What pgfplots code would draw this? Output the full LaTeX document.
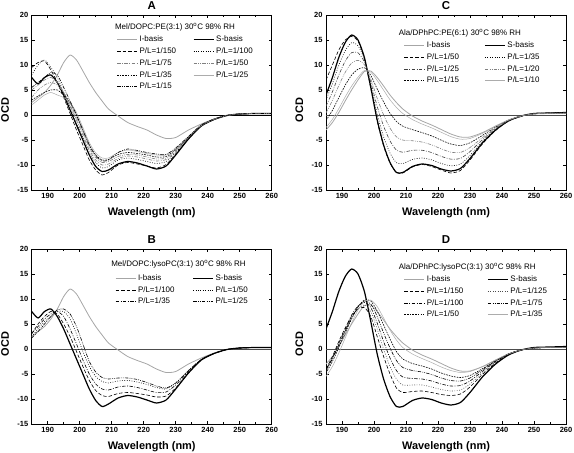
\documentclass[border=0pt]{standalone}
\usepackage{pgfplots}
\pgfplotsset{compat=1.18}
\usepackage{pgfplotstable}
\usepackage{fontspec}
\setmainfont{Liberation Sans}

\pgfplotstableread{
lam  I     S      p1     p2     p3     p4     p5     p6     p7
185  2.5   7.5    9.5    8.0    5.0    3.5    3.0    2.0    5.5
187  3.5   6.2    10.5   10.0   6.0    5.0    3.8    3.0    6.5
189  4.5   7.5    10.8   11.0   7.0    6.0    4.5    4.0    7.5
191  6.0   8.0    9.0    9.5    7.5    6.5    5.0    4.5    8.5
193  8.0   6.5    6.5    7.5    6.5    6.0    5.0    4.0    8.0
195  10.5  4.0    3.5    4.5    4.5    4.5    4.0    3.5    5.5
197  12.0  1.0    0.3    1.5    2.0    2.2    2.5    2.5    2.8
199  11.0  -2.0   -3.0   -1.5   -1.0   -0.5   0.0    0.5    0.0
201  8.8   -5.0   -6.0   -4.5   -4.0   -3.5   -3.0   -2.5   -3.0
203  6.5   -8.0   -9.0   -7.5   -7.0   -6.5   -6.0   -5.5   -6.0
205  4.5   -10.3  -11.0  -9.5   -9.0   -8.5   -8.0   -7.6   -8.2
207  2.8   -11.3  -12.0  -10.6  -10.0  -9.5   -9.0   -8.6   -9.2
209  1.2   -11.0  -11.5  -10.3  -9.8   -9.3   -8.9   -8.6   -9.0
212  -0.2  -9.8   -10.0  -9.0   -8.7   -8.3   -7.9   -7.5   -7.5
215  -1.5  -9.3   -9.5   -8.6   -8.2   -7.9   -7.5   -7.0   -6.8
218  -2.3  -9.6   -9.8   -8.9   -8.4   -8.0   -7.7   -7.3   -7.1
221  -3.0  -10.2  -10.2  -9.3   -8.8   -8.4   -8.0   -7.7   -7.5
224  -4.0  -10.8  -10.6  -9.7   -9.2   -8.8   -8.4   -8.0   -7.8
227  -4.7  -10.2  -9.9   -9.3   -8.9   -8.6   -8.3   -8.0   -7.9
230  -4.5  -8.0   -7.8   -7.5   -7.3   -7.1   -6.9   -6.7   -6.6
234  -3.0  -4.8   -4.7   -4.6   -4.5   -4.4   -4.4   -4.3   -4.3
238  -1.8  -2.2   -2.2   -2.1   -2.1   -2.1   -2.0   -2.0   -2.0
242  -0.8  -0.9   -0.9   -0.9   -0.9   -0.8   -0.8   -0.8   -0.8
246  -0.1  -0.1   -0.1   -0.1   -0.1   -0.1   -0.1   -0.1   -0.1
250  0.2   0.2    0.2    0.2    0.2    0.2    0.2    0.2    0.2
255  0.3   0.3    0.3    0.3    0.3    0.3    0.3    0.3    0.3
260  0.3   0.3    0.3    0.3    0.3    0.3    0.3    0.3    0.3
}\tabA

\pgfplotstableread{
lam  I     S      p1     p2     p3     p4
185  2.5   7.5    3.0    2.5    3.2    2.2
187  3.5   6.2    5.0    4.0    4.5    3.5
189  4.5   7.5    6.5    5.5    6.0    5.0
191  6.0   8.0    7.5    6.5    7.0    6.5
193  8.0   6.5    7.0    7.5    7.5    7.8
195  10.5  4.0    5.0    7.5    6.5    8.0
197  12.0  1.0    2.5    6.0    4.0    7.0
199  11.0  -2.0   -0.5   3.0    1.0    4.5
201  8.8   -5.0   -3.5   -0.5   -2.2   1.0
203  6.5   -8.0   -6.3   -3.5   -5.0   -2.5
205  4.5   -10.3  -8.3   -5.5   -7.0   -4.6
207  2.8   -11.5  -9.3   -6.5   -8.0   -5.7
209  1.2   -11.0  -9.5   -6.8   -8.2   -6.0
212  -0.2  -9.8   -8.9   -6.4   -7.6   -5.8
215  -1.5  -9.3   -8.7   -6.3   -7.4   -5.8
218  -2.3  -9.6   -8.9   -6.6   -7.7   -6.1
221  -3.0  -10.2  -9.2   -7.1   -8.2   -6.7
224  -4.0  -10.8  -9.6   -7.7   -8.7   -7.4
227  -4.7  -10.2  -9.4   -8.0   -8.6   -7.8
230  -4.5  -8.0   -7.8   -6.8   -7.2   -6.8
234  -3.0  -4.8   -4.7   -4.3   -4.5   -4.3
238  -1.8  -2.2   -2.2   -2.1   -2.1   -2.1
242  -0.8  -0.9   -0.9   -0.9   -0.9   -0.9
246  -0.1  -0.1   -0.1   -0.1   -0.1   -0.1
250  0.2   0.2    0.2    0.2    0.2    0.2
255  0.3   0.3    0.3    0.3    0.3    0.3
260  0.3   0.3    0.3    0.3    0.3    0.3
}\tabB

\pgfplotstableread{
lam  I     S      p1     p2     p3     p4     p5     p6
185  -3.0  4.0    7.0    3.02   1.76   0.43   -1.11  -2.51
187  -1.5  7.5    10.0   6.24   4.62   2.91   0.93   -0.87
189  0.5   11.5   13.0   9.96   7.98   5.89   3.47   1.27
191  2.8   14.5   15.0   12.86  10.76  8.53   5.96   3.62
193  5.0   16.0   15.7   14.46  12.48  10.39  7.97   5.77
195  7.0   15.0   14.8   13.88  12.44  10.92  9.16   7.56
197  8.7   11.5   11.3   11.11  10.60  10.07  9.46   8.90
199  8.8   5.5    5.3    5.96   6.56   7.18   7.91   8.57
201  7.5   -1.0   -1.2   0.19   1.72   3.33   5.20   6.90
203  5.8   -6.0   -6.2   -4.35  -2.22  0.02   2.61   4.97
205  4.0   -9.5   -9.6   -7.61  -5.18  -2.62  0.35   3.05
207  2.5   -11.5  -11.5  -9.54  -7.02  -4.36  -1.28  1.52
209  1.2   -11.5  -11.6  -9.72  -7.44  -5.02  -2.23  0.31
212  -0.2  -10.3  -10.4  -8.89  -7.07  -5.15  -2.93  -0.91
215  -1.2  -9.8   -9.9   -8.60  -7.05  -5.41  -3.52  -1.80
218  -2.0  -10.1  -10.3  -8.97  -7.51  -5.97  -4.19  -2.57
221  -2.9  -10.8  -11.0  -9.69  -8.27  -6.77  -5.03  -3.45
224  -3.8  -11.2  -11.6  -10.16 -8.83  -7.43  -5.80  -4.32
227  -4.4  -10.7  -11.1  -9.82  -8.68  -7.49  -6.10  -4.84
230  -4.4  -8.7   -9.0   -8.10  -7.32  -6.51  -5.56  -4.70
234  -3.5  -5.5   -5.7   -5.22  -4.86  -4.48  -4.04  -3.64
238  -2.2  -3.0   -3.1   -2.89  -2.74  -2.59  -2.42  -2.26
242  -1.0  -1.2   -1.2   -1.17  -1.14  -1.10  -1.05  -1.01
246  -0.2  -0.2   -0.3   -0.20  -0.20  -0.20  -0.20  -0.20
250  0.2   0.3    0.3    0.29   0.27   0.25   0.23   0.21
255  0.3   0.4    0.4    0.39   0.37   0.35   0.33   0.31
260  0.3   0.5    0.5    0.47   0.44   0.40   0.35   0.31
}\tabC

\pgfplotstableread{
lam  I     S      p1     p2     p3     p4     p5     p6
185  -3.0  4.0    -4.0   -4.5   -4.0   -4.2   -4.8   -5.5
187  -1.5  7.5    -1.5   -2.0   -1.8   -2.0   -2.5   -3.5
189  0.5   11.5   1.5    1.0    1.2    0.8    0.3    -0.8
191  2.8   14.5   4.2    3.8    4.0    3.5    3.2    2.2
193  5.0   16.0   6.5    6.3    6.8    6.3    6.0    5.2
195  7.0   15.0   8.0    8.0    8.6    8.5    8.4    7.8
197  8.7   11.5   8.3    8.8    9.3    9.6    9.8    9.5
199  8.8   5.5    6.5    7.5    8.3    9.0    9.6    9.8
201  7.5   -1.0   2.5    4.0    5.2    6.5    7.6    8.5
203  5.8   -6.0   -1.5   0.0    1.5    3.2    4.8    6.2
205  4.0   -9.5   -5.0   -3.5   -1.8   0.2    2.0    3.8
207  2.5   -11.5  -7.8   -6.0   -4.3   -2.3   -0.5   1.8
209  1.2   -11.5  -8.7   -7.2   -5.6   -3.7   -2.0   0.3
212  -0.2  -10.3  -8.5   -7.2   -5.9   -4.3   -2.9   -1.0
215  -1.2  -9.8   -8.4   -7.2   -6.0   -4.6   -3.4   -1.9
218  -2.0  -10.1  -8.7   -7.6   -6.4   -5.1   -4.0   -2.7
221  -2.9  -10.8  -9.1   -8.1   -7.0   -5.8   -4.8   -3.6
224  -3.8  -11.2  -9.3   -8.4   -7.4   -6.3   -5.4   -4.3
227  -4.4  -10.7  -9.0   -8.2   -7.3   -6.4   -5.7   -4.7
230  -4.4  -8.7   -7.6   -7.0   -6.4   -5.8   -5.3   -4.5
234  -3.5  -5.5   -5.0   -4.7   -4.4   -4.1   -3.9   -3.5
238  -2.2  -3.0   -2.8   -2.6   -2.5   -2.4   -2.3   -2.2
242  -1.0  -1.2   -1.1   -1.0   -1.0   -1.0   -1.0   -1.0
246  -0.2  -0.2   -0.2   -0.2   -0.2   -0.2   -0.2   -0.2
250  0.2   0.3    0.2    0.2    0.2    0.2    0.2    0.2
255  0.3   0.4    0.3    0.3    0.3    0.3    0.3    0.3
260  0.3   0.5    0.3    0.3    0.3    0.3    0.3    0.3
}\tabD

\tikzset{
  ibasis/.style={gray!70, line width=0.8bp},
  sbasis/.style={black, line width=1.2bp},
  dsh/.style={black, line width=0.6bp, dash pattern=on 3.5bp off 2bp},
  dtt/.style={black, line width=0.6bp, dash pattern=on 0.8bp off 1.6bp},
  dshdot/.style={line width=0.6bp, dash pattern=on 3.5bp off 1.5bp on 0.8bp off 1.5bp},
  dshdd/.style={line width=0.6bp, dash pattern=on 3.5bp off 1.2bp on 0.8bp off 1.2bp on 0.8bp off 1.2bp},
  sdsh/.style={black, line width=0.6bp, dash pattern=on 1.6bp off 1.1bp},
  thg/.style={gray!65, line width=0.5bp},
}

\newcommand{\lw}[2]{\makebox[#1][l]{#2}}
\newcommand{\ltitle}{\fontsize{8}{9}\selectfont}

\pgfplotsset{
  every axis title shift=0pt,
  panel/.style={
    scale only axis, width=240bp, height=175bp,
    anchor=south west,
    xmin=185, xmax=260, ymin=-15, ymax=20,
    xtick={190,200,...,260}, ytick={-15,-10,...,20},
    minor x tick num=1,
    major tick length=3bp, minor tick length=1.8bp,
    tick style={black, line width=0.5bp},
    axis line style={line width=0.7bp},
    tick label style={font=\bfseries\fontsize{7.5}{9}\selectfont},
    /pgf/number format/assume math mode=true,
    xlabel={Wavelength (nm)}, ylabel={OCD},
    label style={font=\bfseries\fontsize{11}{13}\selectfont},
    x label style={at={(axis description cs:0.5,-0.128)}, anchor=center},
    y label style={at={(axis description cs:-0.111,0.457)}, anchor=center},
    title style={font=\bfseries\fontsize{11.5}{13}\selectfont, at={(axis description cs:0.5,1.052)}, anchor=center},
    legend columns=2,
    legend cell align=left,
    legend image code/.code={\draw[##1] (0bp,0bp) -- (20bp,0bp); \path[draw=none,fill=none] (0bp,-2bp) (22bp,2bp);},
    legend style={draw=none, fill=none, font=\fontsize{8}{9}\selectfont, inner sep=0pt, anchor=north west, row sep=2.2bp, nodes={inner xsep=0.5bp, inner ysep=1bp, text height=6bp, text depth=1.5bp}},
    every axis plot/.append style={smooth, tension=0.4},
  }
}

\begin{document}
\begin{tikzpicture}
\useasboundingbox (0,0) rectangle (574bp,453bp);

% ---------- A ----------
\begin{axis}[panel, at={(31.7bp,263bp)}, title={A},
  legend style={at={(axis description cs:0.3533,0.8870)}}]
\addplot[black, line width=0.5bp, forget plot, sharp plot] coordinates {(185,0) (260,0)};
\addplot[ibasis] table[x=lam,y=I]{\tabA}; \addlegendentry{\lw{53bp}{I-basis}}
\addplot[sbasis] table[x=lam,y=S]{\tabA}; \addlegendentry{S-basis}
\addplot[dsh] table[x=lam,y=p1]{\tabA}; \addlegendentry{\lw{53bp}{P/L=1/150}}
\addplot[dtt] table[x=lam,y=p2]{\tabA}; \addlegendentry{P/L=1/100}
\addplot[dshdot, gray] table[x=lam,y=p3]{\tabA}; \addlegendentry{\lw{53bp}{P/L=1/75}}
\addplot[dshdd, gray] table[x=lam,y=p4]{\tabA}; \addlegendentry{P/L=1/50}
\addplot[sdsh] table[x=lam,y=p5]{\tabA}; \addlegendentry{\lw{53bp}{P/L=1/35}}
\addplot[thg] table[x=lam,y=p6]{\tabA}; \addlegendentry{P/L=1/25}
\addplot[dshdd, black] table[x=lam,y=p7]{\tabA}; \addlegendentry{\lw{53bp}{P/L=1/15}}
\node[anchor=west, inner sep=0pt, font=\ltitle] at (axis cs:211,17.54) {Mel/DOPC:PE(3:1) 30\textsuperscript{o}C 98\% RH};
\end{axis}

% ---------- C ----------
\begin{axis}[panel, at={(326bp,263bp)}, title={C},
  legend style={at={(axis description cs:0.324,0.8545)}}]
\addplot[black!70, line width=0.5bp, forget plot, sharp plot] coordinates {(185,0) (260,0)};
\addplot[ibasis] table[x=lam,y=I]{\tabC}; \addlegendentry{\lw{57bp}{I-basis}}
\addplot[sbasis] table[x=lam,y=S]{\tabC}; \addlegendentry{S-basis}
\addplot[dsh] table[x=lam,y=p1]{\tabC}; \addlegendentry{\lw{57bp}{P/L=1/50}}
\addplot[dtt] table[x=lam,y=p2]{\tabC}; \addlegendentry{P/L=1/35}
\addplot[dshdot, black!75] table[x=lam,y=p3]{\tabC}; \addlegendentry{\lw{57bp}{P/L=1/25}}
\addplot[dshdd, gray] table[x=lam,y=p4]{\tabC}; \addlegendentry{P/L=1/20}
\addplot[sdsh] table[x=lam,y=p5]{\tabC}; \addlegendentry{\lw{57bp}{P/L=1/15}}
\addplot[thg] table[x=lam,y=p6]{\tabC}; \addlegendentry{P/L=1/10}
\node[anchor=west, inner sep=0pt, font=\ltitle] at (axis cs:207.7,16.4) {Ala/DPhPC:PE(6:1) 30\textsuperscript{o}C 98\% RH};
\end{axis}

% ---------- B ----------
\begin{axis}[panel, at={(31.7bp,29bp)}, title={B},
  legend style={at={(axis description cs:0.3467,0.8620)}}]
\addplot[black!70, line width=0.5bp, forget plot, sharp plot] coordinates {(185,0) (260,0)};
\addplot[ibasis] table[x=lam,y=I]{\tabB}; \addlegendentry{\lw{54bp}{I-basis}}
\addplot[sbasis] table[x=lam,y=S]{\tabB}; \addlegendentry{S-basis}
\addplot[dsh] table[x=lam,y=p1]{\tabB}; \addlegendentry{\lw{54bp}{P/L=1/100}}
\addplot[dtt] table[x=lam,y=p2]{\tabB}; \addlegendentry{P/L=1/50}
\addplot[dshdot, black] table[x=lam,y=p3]{\tabB}; \addlegendentry{\lw{54bp}{P/L=1/35}}
\addplot[dshdd, black] table[x=lam,y=p4]{\tabB}; \addlegendentry{P/L=1/25}
\node[anchor=west, inner sep=0pt, font=\ltitle] at (axis cs:209.8,17) {Mel/DOPC:lysoPC(3:1) 30\textsuperscript{o}C 98\% RH};
\end{axis}

% ---------- D ----------
\begin{axis}[panel, at={(326bp,29bp)}, title={D},
  legend style={at={(axis description cs:0.324,0.8540)}}]
\addplot[black!70, line width=0.5bp, forget plot, sharp plot] coordinates {(185,0) (260,0)};
\addplot[ibasis] table[x=lam,y=I]{\tabD}; \addlegendentry{\lw{60bp}{I-basis}}
\addplot[sbasis] table[x=lam,y=S]{\tabD}; \addlegendentry{S-basis}
\addplot[dsh] table[x=lam,y=p1]{\tabD}; \addlegendentry{\lw{60bp}{P/L=1/150}}
\addplot[dtt, black!70] table[x=lam,y=p2]{\tabD}; \addlegendentry{P/L=1/125}
\addplot[dshdot, black] table[x=lam,y=p3]{\tabD}; \addlegendentry{\lw{60bp}{P/L=1/100}}
\addplot[dshdd, black] table[x=lam,y=p4]{\tabD}; \addlegendentry{P/L=1/75}
\addplot[sdsh] table[x=lam,y=p5]{\tabD}; \addlegendentry{\lw{60bp}{P/L=1/50}}
\addplot[thg] table[x=lam,y=p6]{\tabD}; \addlegendentry{P/L=1/35}
\node[anchor=west, inner sep=0pt, font=\ltitle] at (axis cs:207.7,16.4) {Ala/DPhPC:lysoPC(3:1) 30\textsuperscript{o}C 98\% RH};
\end{axis}
\end{tikzpicture}
\end{document}
